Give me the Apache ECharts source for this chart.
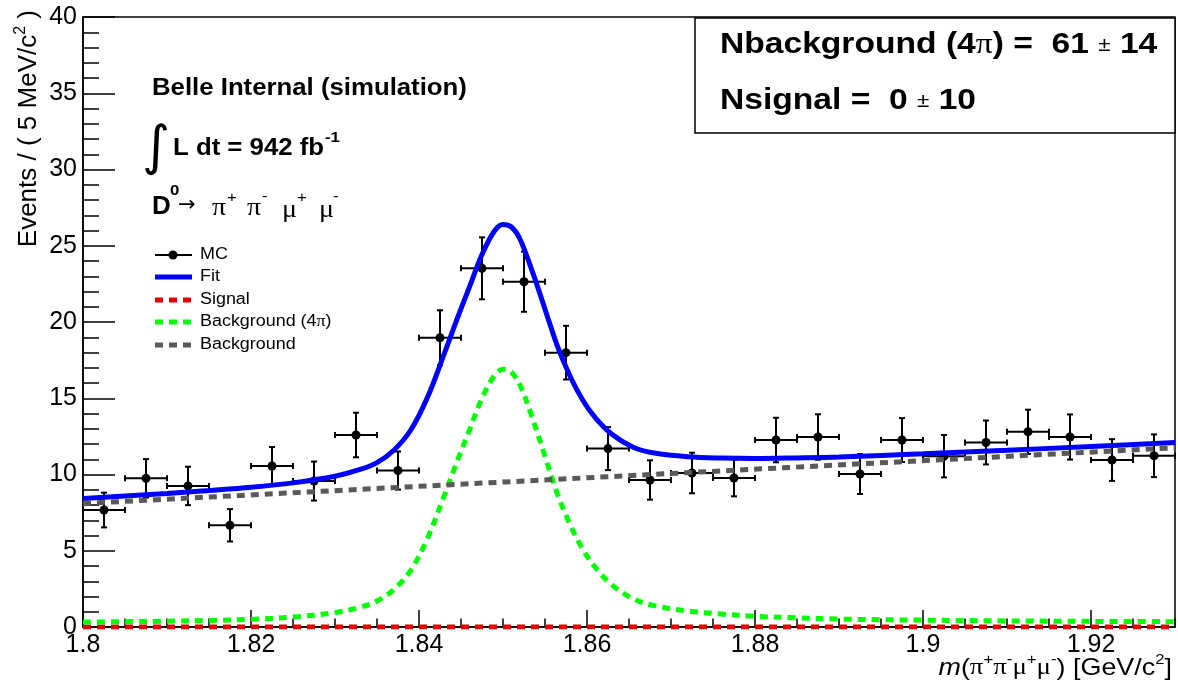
<!DOCTYPE html>
<html><head><meta charset="utf-8">
<script src="https://cdn.jsdelivr.net/npm/echarts/dist/echarts.min.js"></script>
<style>html,body{margin:0;padding:0;background:#fff}#c{width:1178px;height:685px}</style>
</head><body><div id="c"></div>
<script>
// ---------------- data ----------------
const binCenters = [1.8025,1.8075,1.8125,1.8175,1.8225,1.8275,1.8325,1.8375,1.8425,1.8475,1.8525,1.8575,1.8625,
                    1.8675,1.8725,1.8775,1.8825,1.8875,1.8925,1.8975,1.9025,1.9075,1.9125,1.9175,1.9225,1.9275];
const binHalfWidth = 0.0025;
const mcCounts = [7.67,9.75,9.25,6.67,10.56,9.57,12.59,10.26,18.97,23.52,22.64,17.99,11.70,
                  9.64,10.10,9.77,12.26,12.46,10.03,12.26,11.20,12.10,12.80,12.46,10.95,11.23];
const mcErrors = [1.14,1.26,1.26,1.06,1.24,1.28,1.46,1.25,1.80,2.03,1.97,1.76,1.41,
                  1.29,1.33,1.20,1.46,1.49,1.31,1.44,1.39,1.44,1.45,1.48,1.37,1.40];

const curveX  = [1.800,1.805,1.810,1.815,1.820,1.825,1.830,1.833,1.835,1.837,1.839,1.841,1.843,1.8445,1.846,1.8475,
                 1.849,1.850,1.851,1.852,1.8535,1.855,1.8565,1.858,1.8595,1.861,1.863,1.8655,1.868,1.872,1.876,1.880,
                 1.885,1.890,1.900,1.910,1.920,1.930];
const fitY    = [8.42,8.59,8.76,8.95,9.16,9.45,9.89,10.33,10.78,11.59,12.9,15.05,17.91,20.15,22.29,24.43,
                 25.98,26.4,26.23,25.46,23.3,20.84,18.38,16.43,14.87,13.71,12.62,11.79,11.41,11.17,11.08,11.05,
                 11.09,11.15,11.36,11.59,11.84,12.1];
const bkg4piY = [0.32,0.35,0.38,0.43,0.5,0.65,0.95,1.3,1.7,2.45,3.7,5.8,8.6,10.8,12.9,15.0,
                 16.5,16.9,16.7,15.9,13.7,11.2,8.7,6.7,5.1,3.9,2.75,1.85,1.4,1.05,0.85,0.7,
                 0.6,0.52,0.45,0.4,0.37,0.35];
const bkgX = [1.80, 1.93];
const bkgY = [8.1, 11.75];
const sigX = [1.80, 1.93];
const sigY = [0, 0];

const xMin = 1.80, xMax = 1.93, xMajor = 0.02, xMinor = 0.005;
const yMin = 0, yMax = 40, yMajor = 5;

const legendLabels = ['MC', 'Fit', 'Signal', 'Background (4π)', 'Background'];
const statsLine1 = {label: 'Nbackground (4', labelEnd: ') =  ', value: '61', err: '14'};
const statsLine2 = {label: 'Nsignal =  ', value: '0', err: '10'};

// ---------------- styles ----------------
const SANS = "'Liberation Sans', Arial, Helvetica, sans-serif";
const SERIF = "'Liberation Serif', 'DejaVu Serif', serif";
const SX = 1.12;
const BLUE = '#0000ff', GREEN = '#00ff00', RED = '#e60000', GREY = '#595959';

const pairs = (xs, ys) => xs.map((x, i) => [x, ys[i]]);

const chart = echarts.init(document.getElementById('c'), null, {renderer: 'canvas'});

function errRender(params, api) {
  const x = api.value(0), y = api.value(1), e = api.value(2);
  const c = api.coord([x, y]);
  const l = api.coord([x - binHalfWidth, y]);
  const r = api.coord([x + binHalfWidth, y]);
  const t = api.coord([x, y + e]);
  const b = api.coord([x, y - e]);
  const st = {stroke: '#000', lineWidth: 2};
  const cap = 3;
  return {type: 'group', children: [
    {type: 'line', shape: {x1: l[0], y1: l[1], x2: r[0], y2: r[1]}, style: st},
    {type: 'line', shape: {x1: t[0], y1: t[1], x2: b[0], y2: b[1]}, style: st},
    {type: 'line', shape: {x1: l[0], y1: l[1]-cap, x2: l[0], y2: l[1]+cap}, style: st},
    {type: 'line', shape: {x1: r[0], y1: r[1]-cap, x2: r[0], y2: r[1]+cap}, style: st},
    {type: 'line', shape: {x1: t[0]-cap, y1: t[1], x2: t[0]+cap, y2: t[1]}, style: st},
    {type: 'line', shape: {x1: b[0]-cap, y1: b[1], x2: b[0]+cap, y2: b[1]}, style: st},
    {type: 'circle', shape: {cx: c[0], cy: c[1], r: 4.5}, style: {fill: '#000'}}
  ]};
}

const axisLineStyle = {color: '#000', width: 1.5};

// legend graphics
const legY = [255, 277, 300, 322, 345];
const legendGraphics = [];
const legStyles = [
  {stroke: '#000', lineWidth: 2},
  {stroke: BLUE, lineWidth: 5},
  {stroke: RED, lineWidth: 5, lineDash: [8, 6]},
  {stroke: GREEN, lineWidth: 5, lineDash: [8, 6]},
  {stroke: GREY, lineWidth: 5, lineDash: [8, 6]}
];
legendLabels.forEach((lab, i) => {
  legendGraphics.push({type: 'line', shape: {x1: 155, y1: legY[i], x2: 192, y2: legY[i]}, style: legStyles[i], z: 20});
  const parts = lab.split('π');
  const text = parts.length > 1 ? '{n|' + parts[0] + '}{g|π}{n|' + parts[1] + '}' : '{n|' + lab + '}';
  legendGraphics.push({type: 'text', x: 200, y: legY[i], scaleX: SX, z: 20,
    style: {text: text, verticalAlign: 'middle', fill: '#000',
      rich: {n: {fontSize: 16, fontFamily: SANS}, g: {fontSize: 16, fontFamily: SERIF}}}});
});
legendGraphics.push({type: 'circle', shape: {cx: 173, cy: legY[0], r: 4.5}, style: {fill: '#000'}, z: 21});

const supRich = {
  n: {fontSize: 24, fontFamily: SANS, lineHeight: 31, verticalAlign: 'middle'},
  it: {fontSize: 24, fontFamily: SANS, fontStyle: 'italic', lineHeight: 31, verticalAlign: 'middle'},
  g: {fontSize: 24, fontFamily: SERIF, lineHeight: 31, verticalAlign: 'middle'},
  s: {fontSize: 15, fontFamily: SANS, lineHeight: 16, verticalAlign: 'top'}
};
const yRich = {
  n: {fontSize: 26, fontFamily: SANS, lineHeight: 33, verticalAlign: 'middle'},
  s: {fontSize: 16, fontFamily: SANS, lineHeight: 16, verticalAlign: 'top'}
};
const boxRich = {
  b: {fontSize: 30, fontFamily: SANS, fontWeight: 'bold'},
  g: {fontSize: 30, fontFamily: SERIF},
  pm: {fontSize: 20, fontFamily: SANS}
};

const txt = (x, y, s, font, extra) => Object.assign({type: 'text', x: x, y: y, scaleX: SX, z: 20,
  style: {text: s, font: font, fill: '#000', verticalAlign: 'middle'}}, extra || {});

const graphics = [
  // stats box
  {type: 'rect', shape: {x: 695, y: 18, width: 480, height: 115}, style: {fill: '#fff', stroke: '#000', lineWidth: 1.5}, z: 15},
  {type: 'text', x: 720, y: 45, scaleX: SX, z: 20, style: {fill: '#000', verticalAlign: 'middle', rich: boxRich,
     text: '{b|' + statsLine1.label + '}{g|π}{b|' + statsLine1.labelEnd + statsLine1.value + ' }{pm|±}{b| ' + statsLine1.err + '}'}},
  {type: 'text', x: 720, y: 101, scaleX: SX, z: 20, style: {fill: '#000', verticalAlign: 'middle', rich: boxRich,
     text: '{b|' + statsLine2.label + statsLine2.value + ' }{pm|±}{b| ' + statsLine2.err + '}'}},
  // Belle text
  txt(152, 89, 'Belle Internal (simulation)', 'bold 23px ' + SANS),
  txt(142, 150, '∫', '54px DejaVu Sans', {scaleX: 1}),
  txt(173, 149, 'L dt = 942 fb', 'bold 23px ' + SANS),
  txt(325, 138, '-1', 'bold 15px ' + SANS),
  // decay line
  txt(152, 207, 'D', 'bold 26px ' + SANS, {scaleX: 1.0}),
  txt(170, 191, '0', 'bold 15px ' + SANS),
  txt(178, 206, '→', '21px DejaVu Sans', {scaleX: 1}),
  txt(212, 208, 'π', '25px ' + SERIF),
  txt(227, 198, '+', '15px ' + SANS),
  txt(247, 208, 'π', '25px ' + SERIF),
  txt(262, 197, '-', '15px ' + SANS),
  txt(282, 210, 'μ', '25px ' + SERIF),
  txt(297, 198, '+', '15px ' + SANS),
  txt(319, 210, 'μ', '25px ' + SERIF),
  txt(333, 197, '-', '15px ' + SANS),
  // axis titles
  {type: 'text', x: 1172, y: 668, scaleX: SX, z: 20, style: {fill: '#000', align: 'right', verticalAlign: 'middle', rich: supRich,
     text: '{it|m}{n|(}{g|π}{s|+}{g|π}{s|-}{g|μ}{s|+}{g|μ}{s|-}{n|) [GeV/c}{s|2}{n|]}'}},
  {type: 'text', x: 29, y: 10, rotation: Math.PI / 2, z: 20, style: {fill: '#000', align: 'right', verticalAlign: 'middle', rich: yRich,
     text: '{n|Events / ( 5 MeV/c}{s|2}{n| )}'}}
].concat(legendGraphics);

const option = {
  animation: false,
  backgroundColor: '#fff',
  grid: {left: 83, right: 3, top: 17, bottom: 58, show: true, borderColor: '#000', borderWidth: 1.5,
         backgroundColor: 'transparent', containLabel: false, outerBoundsMode: 'none'},
  xAxis: [
    {type: 'value', min: xMin, max: xMax, interval: xMajor, position: 'bottom',
     axisLine: {show: true, onZero: false, lineStyle: axisLineStyle},
     axisTick: {show: true, inside: true, length: 17, lineStyle: axisLineStyle},
     minorTick: {show: false}, splitLine: {show: false},
     axisLabel: {show: true, color: '#000', fontSize: 25, fontFamily: SANS, margin: 6,
                 showMaxLabel: false, showMinLabel: true, hideOverlap: false,
                 formatter: v => String(Number(v.toFixed(3)))}},
    {type: 'value', min: xMin, max: xMax, interval: xMinor, position: 'bottom', offset: 0,
     axisLine: {show: false, onZero: false},
     axisTick: {show: true, inside: true, length: 8.5, lineStyle: axisLineStyle},
     axisLabel: {show: false}, splitLine: {show: false}}
  ],
  yAxis: {type: 'value', min: yMin, max: yMax, interval: yMajor,
    axisLine: {show: true, onZero: false, lineStyle: axisLineStyle},
    axisTick: {show: true, inside: true, length: 32, lineStyle: axisLineStyle},
    minorTick: {show: true, splitNumber: 5, length: 16, lineStyle: axisLineStyle},
    splitLine: {show: false}, minorSplitLine: {show: false},
    axisLabel: {color: '#000', fontSize: 25, fontFamily: SANS, margin: 6, hideOverlap: false}},
  series: [
    {type: 'custom', name: 'MC', renderItem: errRender, z: 2,
     data: binCenters.map((x, i) => [x, mcCounts[i], mcErrors[i]]), encode: {x: 0, y: 1}},
    {type: 'line', name: 'Fit', data: pairs(curveX, fitY), showSymbol: false, smooth: 0.35, z: 3,
     lineStyle: {color: BLUE, width: 5}},
    {type: 'line', name: 'Signal', data: pairs(sigX, sigY), showSymbol: false, z: 4,
     lineStyle: {color: RED, width: 5, type: [8, 6], cap: 'butt'}},
    {type: 'line', name: 'Background (4π)', data: pairs(curveX, bkg4piY), showSymbol: false, smooth: 0.35, z: 5,
     lineStyle: {color: GREEN, width: 5, type: [8, 6], cap: 'butt'}},
    {type: 'line', name: 'Background', data: pairs(bkgX, bkgY), showSymbol: false, z: 6,
     lineStyle: {color: GREY, width: 5, type: [8, 6], cap: 'butt'}}
  ],
  graphic: graphics
};
chart.setOption(option);
</script>
</body></html>
